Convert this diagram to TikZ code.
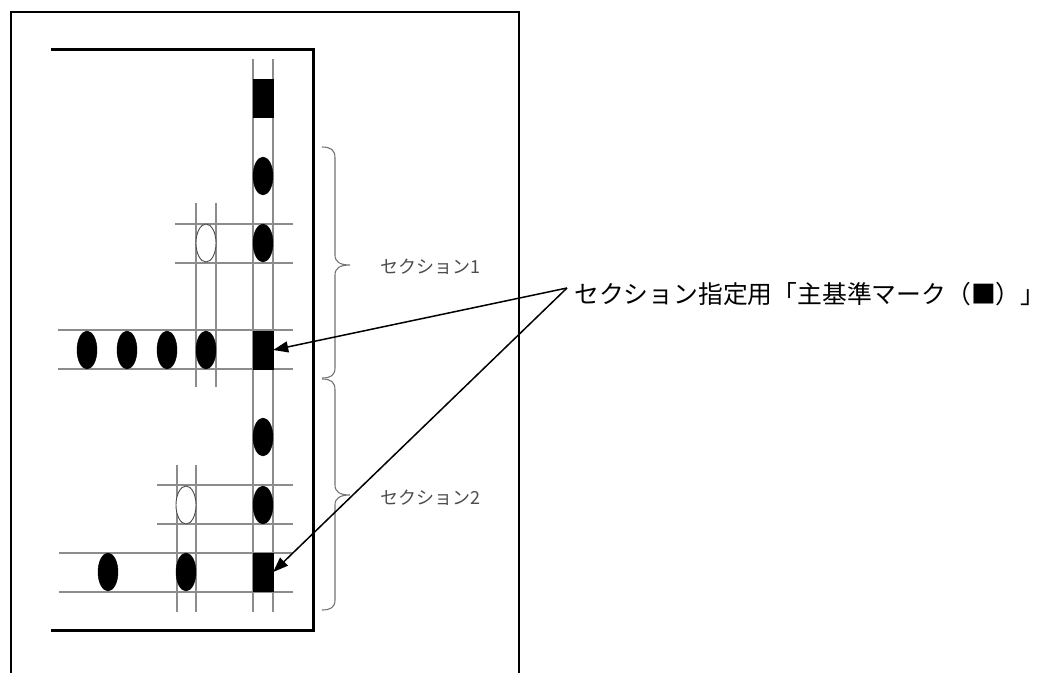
\documentclass[tikz,border=0pt]{standalone}
\usepackage{fontspec}
\newfontfamily\cjk{Noto Sans CJK JP}
\usetikzlibrary{shapes.geometric,arrows.meta}
\tikzset{
  grid/.style={draw=black!45, line width=1.2pt},
  frameline/.style={draw=black, line width=1.3pt},
  thickline/.style={draw=black, line width=3pt},
  fillmark/.style={ellipse, fill=black, draw=black, minimum width=20pt, minimum height=38pt, inner sep=0pt},
  openmark/.style={ellipse, fill=white, draw=black!70, line width=0.9pt, minimum width=20pt, minimum height=38pt, inner sep=0pt},
  sqmark/.style={rectangle, fill=black, draw=black, minimum width=20pt, minimum height=38pt, inner sep=0pt},
  bracestyle/.style={draw=black!55, line width=1.1pt},
  seclabel/.style={font=\cjk\fontsize{18}{20}\selectfont, text=black!70, inner sep=0pt},
  mainlabel/.style={font=\cjk\fontsize{24.8}{28}\selectfont, text=black, inner sep=0pt, anchor=west},
  arrowline/.style={draw=black, line width=1.5pt, -{Triangle[length=15pt,width=11pt]}}
}
\begin{document}
\begin{tikzpicture}[x=1pt,y=-1pt]
\useasboundingbox (0,0) rectangle (1044,673);
% outer sheet
\draw[frameline] (11,673) |- (519,12) -- (519,673);
% thick frame
\draw[thickline] (51,49) -| (313,630) -- (51,630);
% main column grid
\draw[grid] (253,59) -- (253,612);
\draw[grid] (273,59) -- (273,612);
% section 1 grid
\draw[grid] (175,224) -- (293,224);
\draw[grid] (175,263) -- (293,263);
\draw[grid] (196,203) -- (196,387);
\draw[grid] (216,203) -- (216,387);
\draw[grid] (58,330) -- (293,330);
\draw[grid] (58,369) -- (293,369);
% section 2 grid
\draw[grid] (157,485) -- (293,485);
\draw[grid] (157,524) -- (293,524);
\draw[grid] (177,465) -- (177,612);
\draw[grid] (196,465) -- (196,612);
\draw[grid] (59,553) -- (293,553);
\draw[grid] (59,592) -- (293,592);
% marks
\node[sqmark] (s0) at (263,98) {};
\node[fillmark] (e1) at (263,176) {};
\node[fillmark] (e2) at (263,243) {};
\node[openmark] (o1) at (206,243) {};
\node[fillmark] (r1) at (87,350) {};
\node[fillmark] (r2) at (127,350) {};
\node[fillmark] (r3) at (167,350) {};
\node[fillmark] (r4) at (206,350) {};
\node[sqmark] (s1) at (263,350) {};
\node[fillmark] (e3) at (263,437) {};
\node[fillmark] (e4) at (263,505) {};
\node[openmark] (o2) at (186,505) {};
\node[fillmark] (b1) at (108,572) {};
\node[fillmark] (b2) at (186,572) {};
\node[sqmark] (s2) at (263,572) {};
% braces
\draw[bracestyle] (322,147) .. controls (331,147) and (335,150) .. (335,158)
  -- (335,255) .. controls (335,262) and (340,265) .. (350,265)
  .. controls (340,265) and (335,268) .. (335,275)
  -- (335,368) .. controls (335,375) and (331,378) .. (322,378);
\draw[bracestyle] (322,379) .. controls (331,379) and (335,382) .. (335,390)
  -- (335,485) .. controls (335,492) and (340,495) .. (350,495)
  .. controls (340,495) and (335,498) .. (335,505)
  -- (335,600) .. controls (335,607) and (331,610) .. (322,610);
\node[seclabel] (l1) at (430,267) {セクション1};
\node[seclabel] (l2) at (430,498) {セクション2};
% main label and arrows
\node[mainlabel] (lab) at (574,294) {セクション指定用「主基準マーク（■）」};
\coordinate (src) at (567,288);
\draw[arrowline] (src) -- (s1.east);
\draw[arrowline] (src) -- (s2.east);
\end{tikzpicture}
\end{document}
